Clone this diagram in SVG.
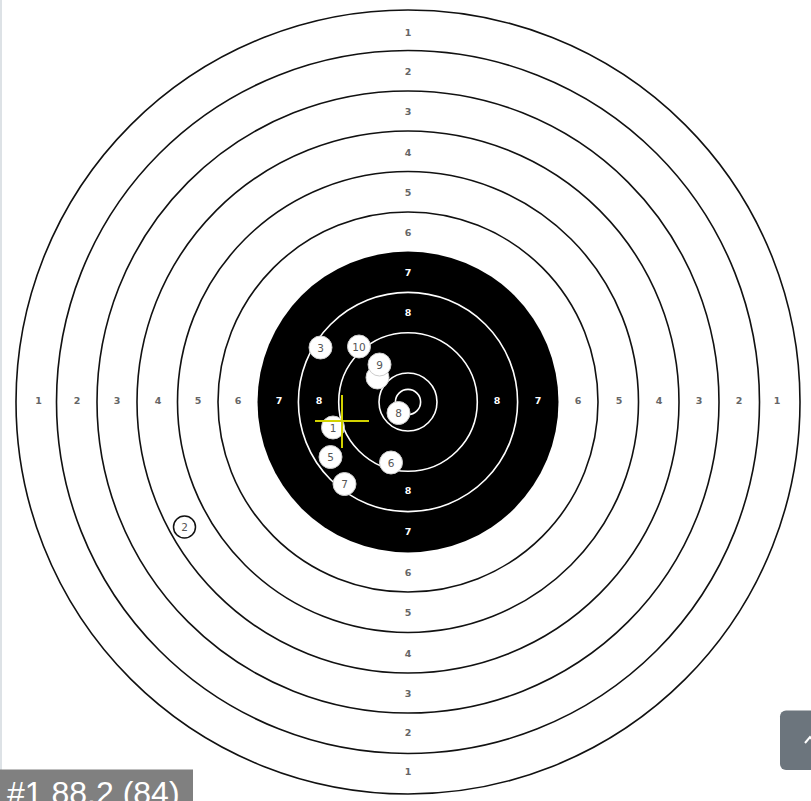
<svg xmlns="http://www.w3.org/2000/svg" width="811" height="801" viewBox="0 0 811 801">
<style>
.ring{fill:none;stroke:#111;stroke-width:1.6}
.wring{fill:none;stroke:#fff;stroke-width:1.6}
.lb{font-family:"DejaVu Sans",Verdana,sans-serif;font-size:9.5px;font-weight:bold;text-anchor:middle;dominant-baseline:central;fill:#666}
.lw{fill:#fff}
.shot{fill:#fff;stroke:#ccc;stroke-width:1}
.st{font-family:"DejaVu Sans",Verdana,sans-serif;font-size:10.5px;text-anchor:middle;dominant-baseline:central;fill:#555}
.cross{stroke:#d2d200;stroke-width:2}
</style>
<rect width="811" height="801" fill="#fff"/>
<line x1="1" y1="0" x2="1" y2="801" stroke="#dde2e6" stroke-width="2"/>
<g id="target">
<circle class="ring" cx="408" cy="402" r="392"/>
<circle class="ring" cx="408" cy="402" r="351.5"/>
<circle class="ring" cx="408" cy="402" r="311"/>
<circle class="ring" cx="408" cy="402" r="271"/>
<circle class="ring" cx="408" cy="402" r="230.5"/>
<circle class="ring" cx="408" cy="402" r="190"/>
<circle cx="408" cy="402" r="150.5" fill="#000"/>
<circle class="wring" cx="408" cy="402" r="109.6"/>
<circle class="wring" cx="408" cy="402" r="69.3"/>
<circle class="wring" cx="408" cy="402" r="29"/>
<circle class="wring" cx="408" cy="402" r="12.6"/>
</g>
<g id="labels">
<text class="lb" x="408" y="32">1</text><text class="lb" x="408" y="71">2</text><text class="lb" x="408" y="111">3</text><text class="lb" x="408" y="152">4</text><text class="lb" x="408" y="192">5</text><text class="lb" x="408" y="232">6</text><text class="lb lw" x="408" y="272">7</text><text class="lb lw" x="408" y="312">8</text>
<text class="lb lw" x="408" y="490">8</text><text class="lb lw" x="408" y="531">7</text><text class="lb" x="408" y="572">6</text><text class="lb" x="408" y="612">5</text><text class="lb" x="408" y="653">4</text><text class="lb" x="408" y="693">3</text><text class="lb" x="408" y="732">2</text><text class="lb" x="408" y="771">1</text>
<text class="lb" x="38.5" y="400">1</text><text class="lb" x="77" y="400">2</text><text class="lb" x="117" y="400">3</text><text class="lb" x="158" y="400">4</text><text class="lb" x="198" y="400">5</text><text class="lb" x="238" y="400">6</text><text class="lb lw" x="279" y="400">7</text><text class="lb lw" x="319" y="400">8</text>
<text class="lb lw" x="497" y="400">8</text><text class="lb lw" x="538" y="400">7</text><text class="lb" x="578" y="400">6</text><text class="lb" x="619" y="400">5</text><text class="lb" x="659" y="400">4</text><text class="lb" x="699" y="400">3</text><text class="lb" x="739" y="400">2</text><text class="lb" x="777" y="400">1</text>
</g>
<g id="shots">
<g id="shot2"><circle cx="184.5" cy="527" r="11" fill="#fff" stroke="#111" stroke-width="1.5"/><text class="st" x="184.5" y="527">2</text></g>
<g id="shot3"><circle class="shot" cx="320.5" cy="347.5" r="11.5"/><text class="st" x="320.5" y="347.5">3</text></g>
<g id="shot10"><circle class="shot" cx="359" cy="346.5" r="11.5"/><text class="st" x="359" y="346.5">10</text></g>
<g id="shot4"><circle class="shot" cx="377.5" cy="377.5" r="11.5"/></g>
<g id="shot9"><circle class="shot" cx="379.5" cy="364.5" r="11.5"/><text class="st" x="379.5" y="364.5">9</text></g>
<g id="shot8"><circle class="shot" cx="398.5" cy="413" r="11.5"/><text class="st" x="398.5" y="413">8</text></g>
<g id="shot1"><circle class="shot" cx="333" cy="427.5" r="11.5"/><text class="st" x="333" y="427.5">1</text></g>
<g id="shot5"><circle class="shot" cx="330.5" cy="457" r="11.5"/><text class="st" x="330.5" y="457">5</text></g>
<g id="shot6"><circle class="shot" cx="391" cy="462.5" r="11.5"/><text class="st" x="391" y="462.5">6</text></g>
<g id="shot7"><circle class="shot" cx="344.5" cy="484" r="11.5"/><text class="st" x="344.5" y="484">7</text></g>
</g>
<g id="cross">
<line class="cross" x1="315" y1="421" x2="369" y2="421"/>
<line class="cross" x1="342" y1="395" x2="342" y2="448"/>
</g>
<g id="score">
<rect x="0" y="769.5" width="193" height="32" fill="#808080"/>
<text x="7" y="804" font-family="Liberation Sans, Arial, sans-serif" font-size="32" fill="#fff">#1 88.2 (84)</text>
</g>
<g id="button">
<rect x="780" y="710.5" width="40" height="59.5" rx="6" fill="#6c757d"/>
<path d="M805 743 L810 737 L815 743" fill="none" stroke="#fff" stroke-width="2"/>
</g>
</svg>
